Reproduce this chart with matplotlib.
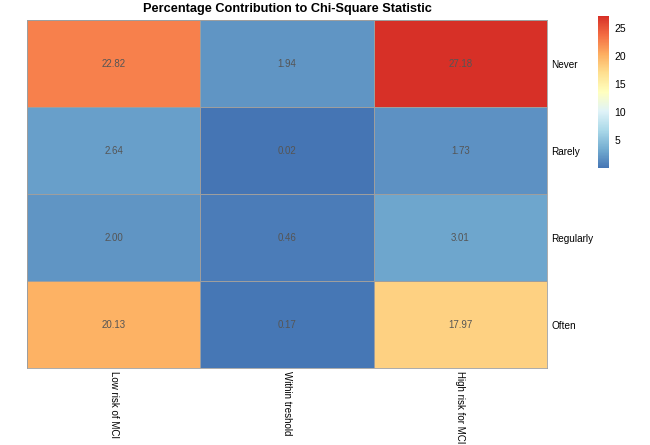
import numpy as np
import matplotlib.pyplot as plt
from matplotlib.colors import LinearSegmentedColormap

plt.rcParams['font.family'] = ['Liberation Sans', 'DejaVu Sans']

rows = ['Never', 'Rarely', 'Regularly', 'Often']
cols = ['Low risk of MCI', 'Within treshold', 'High risk for MCI']
never = [22.82, 1.94, 27.18]
rarely = [2.64, 0.02, 1.73]
regularly = [2.00, 0.46, 3.01]
often = [20.13, 0.17, 17.97]
cbar_ticks = [5, 10, 15, 20, 25]

vals = np.array([never, rarely, regularly, often])

# RdYlBu 9-class, reversed
pal = ['#4575B4', '#74ADD1', '#ABD9E9', '#E0F3F8', '#FFFFBF',
       '#FEE090', '#FDAE61', '#F46D43', '#D73027']
cmap = LinearSegmentedColormap.from_list('rdylbu9', pal)

fig = plt.figure(figsize=(6.5, 4.45), dpi=100)
ax = fig.add_axes([0.0415, 0.173, 0.8, 0.782])

mesh = ax.pcolormesh(vals, cmap=cmap, vmin=vals.min(), vmax=vals.max(),
                     edgecolors='#9E9E9E', linewidth=0.5)
ax.set_xlim(0, len(cols))
ax.set_ylim(len(rows), 0)

for i in range(len(rows)):
    for j in range(len(cols)):
        ax.text(j + 0.5, i + 0.5, f'{vals[i, j]:.2f}', ha='center', va='center',
                fontsize=7, color='#555555')

for s in ax.spines.values():
    s.set_color('#9E9E9E')
    s.set_linewidth(0.6)

ax.set_xticks(np.arange(len(cols)) + 0.5)
ax.set_xticklabels(cols, rotation=-90, fontsize=7, va='top', ha='center')
ax.set_yticks(np.arange(len(rows)) + 0.5)
ax.set_yticklabels(rows, fontsize=7.2)
ax.yaxis.tick_right()
ax.tick_params(length=0, pad=3)
ax.tick_params(axis='x', pad=2)
ax.set_title('Percentage Contribution to Chi-Square Statistic',
             fontsize=9.2, fontweight='bold', pad=6)

cax = fig.add_axes([0.92, 0.622, 0.017, 0.342])
cb = fig.colorbar(mesh, cax=cax, ticks=cbar_ticks)
cb.outline.set_visible(False)
cb.ax.tick_params(labelsize=7.5, length=0, pad=4)

fig.savefig('out.png', dpi=100)
